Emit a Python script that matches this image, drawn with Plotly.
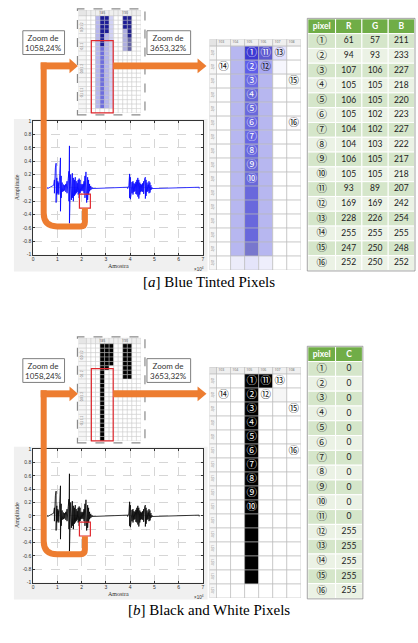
import plotly.graph_objects as go

W, H = 418, 643
OFF_B = 331

# ---------------- data ----------------
pixel_labels = ["①", "②", "③", "④", "⑤", "⑥", "⑦", "⑧", "⑨", "⑩", "⑪", "⑫", "⑬", "⑭", "⑮", "⑯"]
pixel_R = [61, 94, 107, 105, 106, 105, 104, 104, 106, 105, 93, 169, 228, 255, 247, 252]
pixel_G = [57, 93, 106, 105, 105, 102, 102, 103, 105, 105, 89, 169, 226, 255, 250, 250]
pixel_B = [211, 233, 227, 218, 220, 223, 227, 222, 217, 218, 207, 242, 254, 255, 248, 252]
pixel_C = [0, 0, 0, 0, 0, 0, 0, 0, 0, 0, 0, 255, 255, 255, 255, 255]
pixel_col = [105, 105, 105, 105, 105, 105, 105, 105, 105, 105, 106, 106, 107, 103, 108, 108]
pixel_row = [1, 2, 3, 4, 5, 6, 7, 8, 9, 10, 1, 2, 1, 2, 3, 6]

grid_cols = [103, 104, 105, 106, 107, 108]
grid_nrows = 16
# other (un-numbered) pixels of the 3653% zoom: (column, first row, last row, RGB)
grid_other_a = [
    (104, 1, 15, (183, 183, 240)),
    (104, 16, 16, (236, 236, 250)),
    (105, 11, 14, (105, 104, 220)),
    (105, 15, 15, (120, 119, 205)),
    (105, 16, 16, (228, 228, 250)),
    (106, 3, 15, (183, 183, 240)),
    (106, 16, 16, (238, 238, 252)),
    (107, 2, 2, (246, 246, 253)),
]
grid_other_b = [(105, 11, 15, (0, 0, 0)), (107, 2, 2, (246, 246, 246))]

small_cols = [182, 183, 184, 185, 186, 187, 188, 189, 190, 191, 192, 193]
small_nrows = 22
# pixels of the 1058% zoom: (column, first row, last row, RGB)
small_a = [
    (184, 0, 20, (182, 182, 238)),
    (185, 0, 6, (28, 28, 150)),
    (185, 7, 20, (110, 110, 222)),
    (186, 0, 3, (28, 28, 150)),
    (186, 4, 20, (182, 182, 238)),
    (187, 0, 20, (210, 210, 245)),
    (190, 0, 2, (28, 28, 150)),
    (190, 3, 7, (175, 175, 225)),
    (191, 0, 4, (35, 35, 140)),
    (191, 5, 7, (100, 100, 165)),
]
small_b = [
    (185, 0, 21, (0, 0, 0)),
    (186, 0, 5, (0, 0, 0)),
    (187, 0, 4, (0, 0, 0)),
    (190, 0, 7, (0, 0, 0)),
    (191, 0, 7, (0, 0, 0)),
]

# waveform envelope (x in 1e4 samples, upper, lower amplitude)
wave_env = [
    (0.60, 0.01, -0.01),
    (0.85, 0.04, -0.03), (0.88, 0.12, -0.08), (0.92, 0.30, -0.15), (0.95, 0.37, -0.22),
    (0.98, 0.15, -0.10), (1.02, 0.10, -0.08), (1.06, 0.08, -0.10), (1.10, 0.22, -0.20),
    (1.13, 0.45, -0.35), (1.16, 0.18, -0.15), (1.20, 0.08, -0.06), (1.25, 0.05, -0.05),
    (1.30, 0.04, -0.04), (1.35, 0.06, -0.06), (1.40, 0.10, -0.08), (1.45, 0.14, -0.12),
    (1.48, 0.25, -0.20), (1.50, 0.63, -0.53), (1.52, 0.30, -0.25), (1.55, 0.20, -0.16),
    (1.58, 0.14, -0.18), (1.62, 0.22, -0.15), (1.66, 0.15, -0.20), (1.70, 0.12, -0.12),
    (1.74, 0.16, -0.10), (1.78, 0.10, -0.08), (1.82, 0.07, -0.06), (1.86, 0.12, -0.10),
    (1.90, 0.14, -0.15), (1.94, 0.12, -0.08), (1.98, 0.06, -0.05), (2.02, 0.05, -0.04),
    (2.06, 0.06, -0.05), (2.10, 0.10, -0.08), (2.14, 0.18, -0.15), (2.18, 0.24, -0.20),
    (2.21, 0.22, -0.22), (2.25, 0.16, -0.18), (2.29, 0.12, -0.10), (2.33, 0.06, -0.05),
    (2.38, 0.03, -0.03), (2.43, 0.01, -0.01),
    (3.90, 0.01, -0.01), (3.95, 0.04, -0.04), (3.98, 0.21, -0.15), (4.01, 0.16, -0.17),
    (4.04, 0.12, -0.10), (4.08, 0.09, -0.08), (4.12, 0.10, -0.10), (4.16, 0.07, -0.06),
    (4.20, 0.06, -0.05), (4.24, 0.09, -0.09), (4.28, 0.12, -0.10), (4.32, 0.15, -0.13),
    (4.36, 0.12, -0.16), (4.40, 0.08, -0.10), (4.44, 0.06, -0.06), (4.48, 0.05, -0.05),
    (4.52, 0.07, -0.06), (4.56, 0.10, -0.09), (4.60, 0.14, -0.12), (4.63, 0.16, -0.16),
    (4.66, 0.12, -0.12), (4.70, 0.08, -0.06), (4.74, 0.05, -0.05), (4.78, 0.10, -0.08),
    (4.82, 0.08, -0.07), (4.86, 0.04, -0.03), (4.90, 0.01, -0.01),
    (6.85, 0.01, -0.01),
]

amp_ticks = [-1, -0.8, -0.6, -0.4, -0.2, 0, 0.2, 0.4, 0.6, 0.8, 1]
amp_labels = ["-1", "-0.8", "-0.6", "-0.4", "-0.2", "0", "0.2", "0.4", "0.6", "0.8", "1"]
sample_ticks = [0, 1, 2, 3, 4, 5, 6, 7]
sample_labels = ["0", "1", "2", "3", "4", "5", "6", "7"]

# ---------------- helpers ----------------
FONT_UI = "Lato, Noto Sans CJK JP"
CIRC = "Noto Sans CJK JP"
ORANGE = "#ED7D31"
RED = "#E0282E"
ROW_DARK = "#D5E6CA"
ROW_LIGHT = "#EBF2E5"
HEAD = "#70AD47"


def X(x):
    return x / W


def Y(y):
    return 1 - y / H


def rgb(t):
    return f"rgb({t[0]},{t[1]},{t[2]})"


fig = go.Figure()
axes = {}
shapes = []
annos = []


def add_axes(n, x0, x1, y0, y1, xr, yr):
    s = "" if n == 1 else str(n)
    axes["xaxis" + s] = dict(domain=[X(x0), X(x1)], range=xr, anchor="y" + s,
                             visible=False, fixedrange=True)
    axes["yaxis" + s] = dict(domain=[Y(y1), Y(y0)], range=yr, anchor="x" + s,
                             visible=False, fixedrange=True)
    return "x" + s, "y" + s


def build_colors(cols, rows, runs, labelled):
    cc = {(c, r): (255, 255, 255) for c in cols for r in rows}
    for c, r0, r1, t in runs:
        for r in range(r0, r1 + 1):
            cc[(c, r)] = t
    for c, r, t in labelled:
        cc[(c, r)] = t
    return cc


def rect(x0, y0, x1, y1, **kw):
    d = dict(type="rect", xref="paper", yref="paper", x0=X(x0), x1=X(x1), y0=Y(y1), y1=Y(y0))
    d.update(kw)
    shapes.append(d)


def path(pts, closed=False, **kw):
    s = ""
    for i, p in enumerate(pts):
        if p[0] == "Q":
            s += f" Q {X(p[1]):.5f},{Y(p[2]):.5f} {X(p[3]):.5f},{Y(p[4]):.5f}"
        else:
            s += (" M " if i == 0 else " L ") + f"{X(p[0]):.5f},{Y(p[1]):.5f}"
    if closed:
        s += " Z"
    d = dict(type="path", xref="paper", yref="paper", path=s.strip())
    d.update(kw)
    shapes.append(d)


def text(x, y, t, size, color="#333", family=FONT_UI, angle=0, xanchor="center"):
    annos.append(dict(x=X(x), y=Y(y), xref="paper", yref="paper", text=t, showarrow=False,
                      font=dict(size=size, color=color, family=family), textangle=angle,
                      xanchor=xanchor, yanchor="middle"))


def panel(o, mode, n0):
    is_a = mode == "a"
    # ---------- small grid (1058%) ----------
    xa, ya = add_axes(n0, 78, 141, 7 + o, 111 + o, [179.75, 193.5], [small_nrows, -1.35])
    rect(77, 6 + o, 145, 113 + o, line=dict(color="#8a8a8a", width=1.2, dash="dash"),
         fillcolor="white", layer="below")
    cc = build_colors(small_cols, range(small_nrows), small_a if is_a else small_b, [])
    xs, bs, ys, ws, cs = [], [], [], [], []
    for c in small_cols:
        xs.append(c); bs.append(-1.35); ys.append(1.35); ws.append(1); cs.append("#efefef")
    xs.append(180.625); bs.append(-1.35); ys.append(1.35); ws.append(1.75); cs.append("#e6e6e6")
    for r in range(small_nrows):
        xs.append(180.625); bs.append(r); ys.append(1); ws.append(1.75); cs.append("#f6f6f6")
        for c in small_cols:
            xs.append(c); bs.append(r); ys.append(1); ws.append(1); cs.append(rgb(cc[(c, r)]))
    fig.add_trace(go.Bar(x=xs, y=ys, base=bs, width=ws,
                         marker=dict(color=cs, line=dict(color="#c2c2c2", width=0.4)),
                         xaxis=xa, yaxis=ya, hoverinfo="skip"))
    fig.add_trace(go.Scatter(x=[185, 190], y=[-0.7, -0.7], mode="text", text=["185", "190"],
                             textfont=dict(size=3.5, color="#555"), xaxis=xa, yaxis=ya, hoverinfo="skip"))
    for yy, t in [(24, "0,0 1 2"), (44, "-0,1 2"), (66, "0,0 1 2"), (90, "-0,1 1 2")]:
        text(81.5, yy + o, t, 3, "#777", angle=-90)
    rect(91, 38 + o, 113, 111 + o, line=dict(color=RED, width=1.2))

    # ---------- waveform ----------
    s2 = str(n0 + 1)
    xa2, ya2 = "x" + s2, "y" + s2
    rect(13, 117 + o, 208, 271 + o, fillcolor="#f0f0f0", line=dict(width=0), layer="below")
    rect(32.3, 119.3 + o, 203.3, 254 + o, fillcolor="white", line=dict(width=0), layer="below")
    common = dict(showline=True, linecolor="#333", linewidth=0.6, mirror="ticks", ticks="inside",
                  ticklen=2, tickwidth=0.5, tickcolor="#333", showgrid=True, gridcolor="#d6d6d6",
                  griddash="dash", gridwidth=0.5, zeroline=False, fixedrange=True,
                  tickfont=dict(size=5, color="#333", family="Liberation Sans"))
    axes["xaxis" + s2] = dict(domain=[X(32.3), X(203.3)], range=[0, 7], anchor=ya2,
                              tickvals=sample_ticks, ticktext=sample_labels, **common)
    axes["yaxis" + s2] = dict(domain=[Y(254 + o), Y(119.3 + o)], range=[-1, 1], anchor=xa2,
                              tickvals=amp_ticks, ticktext=amp_labels, **common)
    wx, wy = [], []
    for x, hi, lo in wave_env:
        wx += [x, x]
        wy += [hi, lo]
    fig.add_trace(go.Scatter(x=wx, y=wy, mode="lines",
                             line=dict(color="#0000FF" if is_a else "#000000", width=0.8),
                             xaxis=xa2, yaxis=ya2, hoverinfo="skip"))
    text(16, 186 + o, "Amplitude", 6, "#333", "Liberation Serif", angle=-90)
    text(118, 265.5 + o, "Amostra", 6, "#333", "Liberation Serif")
    text(199, 269 + o, "×10<sup>4</sup>", 4.5, "#333", "Liberation Sans")
    rect(79, 193 + o, 90, 207 + o, line=dict(color=RED, width=1.2))

    # ---------- big grid (3653%) ----------
    xa3, ya3 = add_axes(n0 + 2, 210, 302, 36.5 + o, 269.6 + o, [102, 108.5], [grid_nrows, -0.5])
    if is_a:
        lab = [(c, r, (R_, G_, B_)) for c, r, R_, G_, B_ in
               zip(pixel_col, pixel_row, pixel_R, pixel_G, pixel_B)]
        runs = grid_other_a
    else:
        lab = [(c, r, (v, v, v)) for c, r, v in zip(pixel_col, pixel_row, pixel_C)]
        runs = grid_other_b
    cc = build_colors(grid_cols, range(1, grid_nrows + 1), runs, lab)
    xs, bs, ys, ws, cs = [], [], [], [], []
    for c in grid_cols:
        xs.append(c); bs.append(-0.5); ys.append(0.5); ws.append(1); cs.append("#f0f0f0")
    xs.append(102.25); bs.append(-0.5); ys.append(0.5); ws.append(0.5); cs.append("#e4e4e4")
    for r in range(1, grid_nrows + 1):
        xs.append(102.25); bs.append(r - 1); ys.append(1); ws.append(0.5); cs.append("#f6f6f6")
        for c in grid_cols:
            xs.append(c); bs.append(r - 1); ys.append(1); ws.append(1); cs.append(rgb(cc[(c, r)]))
    fig.add_trace(go.Bar(x=xs, y=ys, base=bs, width=ws,
                         marker=dict(color=cs, line=dict(color="#b8b8b8", width=0.6)),
                         xaxis=xa3, yaxis=ya3, hoverinfo="skip"))
    fig.add_trace(go.Scatter(x=[c - 0.38 for c in grid_cols], y=[-0.28] * len(grid_cols), mode="text",
                             text=[str(c) for c in grid_cols], textposition="middle right",
                             textfont=dict(size=3.5, color="#666"), xaxis=xa3, yaxis=ya3,
                             hoverinfo="skip"))
    for r in range(1, grid_nrows + 1):
        annos.append(dict(x=102.25, y=r - 0.5, xref=xa3, yref=ya3, text="-0,01", showarrow=False,
                          textangle=-90, font=dict(size=3, color="#888")))
    tcol = ["white" if sum(t) / 3 < 150 else "#111" for c, r, t in lab]
    fig.add_trace(go.Scatter(x=pixel_col, y=[r - 0.45 for r in pixel_row], mode="text", text=pixel_labels,
                             textfont=dict(size=10.5, color=tcol, family=CIRC), xaxis=xa3, yaxis=ya3,
                             hoverinfo="skip"))

    # ---------- table (drawn as cells on its own axes) ----------
    if is_a:
        headers = ["pixel", "R", "G", "B"]
        cols = [pixel_labels, pixel_R, pixel_G, pixel_B]
        widths = [28, 26.5, 26.5, 26.5]
    else:
        headers = ["pixel", "C"]
        cols = [pixel_labels, pixel_C]
        widths = [28, 27]
    tw = sum(widths)
    n = len(pixel_labels)
    xa4, ya4 = add_axes(100 + n0, 309, 309 + tw, 16 + o, 270 + o, [0, tw], [n + 1, 0])
    centers, left = [], 0
    for w_ in widths:
        centers.append(left + w_ / 2)
        left += w_
    xs, bs, ys, ws, cs = [], [], [], [], []
    for j, ctr in enumerate(centers):
        xs.append(ctr); bs.append(0); ys.append(1); ws.append(widths[j]); cs.append(HEAD)
        for i in range(n):
            xs.append(ctr); bs.append(i + 1); ys.append(1); ws.append(widths[j])
            cs.append(ROW_DARK if i % 2 == 0 else ROW_LIGHT)
    fig.add_trace(go.Bar(x=xs, y=ys, base=bs, width=ws,
                         marker=dict(color=cs, line=dict(color="white", width=1)),
                         xaxis=xa4, yaxis=ya4, hoverinfo="skip"))
    fig.add_trace(go.Scatter(x=centers, y=[0.52] * len(centers), mode="text",
                             text=[f"<b>{h}</b>" for h in headers],
                             textfont=dict(size=8.5, color="white", family=FONT_UI),
                             xaxis=xa4, yaxis=ya4, hoverinfo="skip"))
    for j, col in enumerate(cols):
        fig.add_trace(go.Scatter(x=[centers[j]] * n, y=[i + 1.52 for i in range(n)], mode="text",
                                 text=[str(v) for v in col],
                                 textfont=dict(size=10.5 if j == 0 else 8.5, color="#222",
                                               family=CIRC if j == 0 else FONT_UI),
                                 xaxis=xa4, yaxis=ya4, hoverinfo="skip"))
    rect(308.5, 15.5 + o, 309 + tw + 0.5, 270.5 + o, line=dict(color="#8c8c8c", width=0.8))

    # ---------- zoom labels & arrows ----------
    rect(22, 28 + o, 64, 52 + o, fillcolor="white", line=dict(color="#7f7f7f", width=1))
    rect(147, 28 + o, 191, 52 + o, fillcolor="white", line=dict(color="#7f7f7f", width=1))
    text(43, 40 + o, "Zoom de<br>1058,24%", 8, "#333")
    text(169, 40 + o, "Zoom de<br>3653,32%", 8, "#333")
    path([(43, 60 + o), (43, 212 + o), ("Q", 43, 225.5 + o, 56.5, 225.5 + o), (80, 225.5 + o),
          ("Q", 84.5, 225.5 + o, 84.5, 221 + o), (84.5, 207.3 + o)],
         line=dict(color=ORANGE, width=6))
    rect(40, 60 + o, 70, 67 + o, fillcolor=ORANGE, line=dict(width=0))
    path([(69, 56 + o), (77.5, 63.5 + o), (69, 71 + o)], closed=True, fillcolor=ORANGE, line=dict(width=0))
    rect(113, 60 + o, 199, 67 + o, fillcolor=ORANGE, line=dict(width=0))
    path([(198, 56 + o), (207, 63.5 + o), (198, 71 + o)], closed=True, fillcolor=ORANGE, line=dict(width=0))


panel(0, "a", 1)
panel(OFF_B, "b", 4)

text(209, 281.5, "[<i>a</i>] Blue Tinted Pixels", 15, "#000", "Liberation Serif")
text(209, 612.5, "[<i>b</i>] Black and White Pixels", 15, "#000", "Liberation Serif")

fig.update_layout(width=W, height=H, margin=dict(l=0, r=0, t=0, b=0), paper_bgcolor="white",
                  plot_bgcolor="rgba(0,0,0,0)", showlegend=False, barmode="overlay",
                  shapes=shapes, annotations=annos, **axes)
fig.write_html("out.html", config={"displayModeBar": False},
               post_script="document.body.style.margin='0';document.body.style.overflow='hidden';")
